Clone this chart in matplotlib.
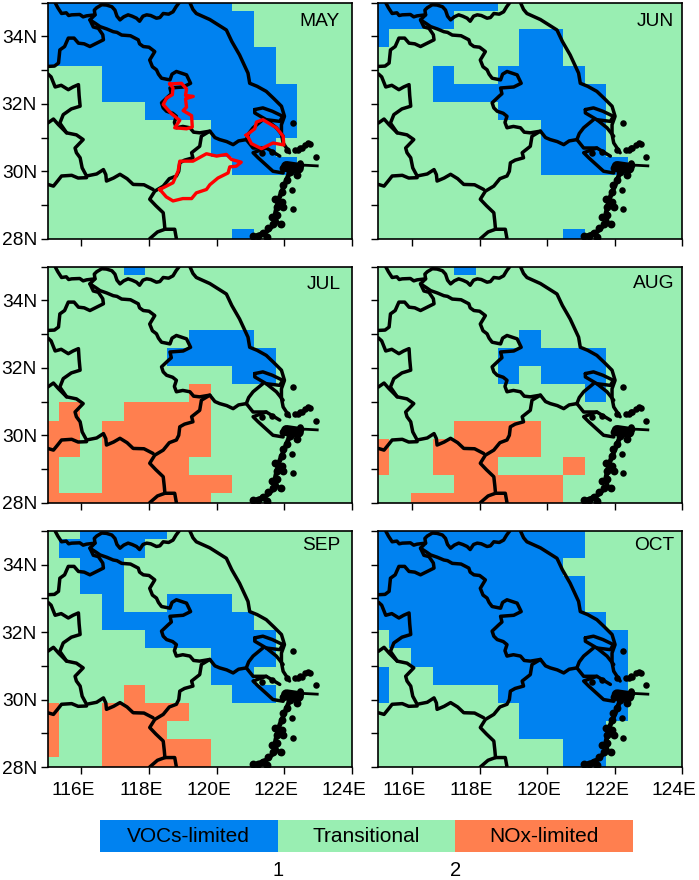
import numpy as np
import matplotlib
matplotlib.use("Agg")
import matplotlib.pyplot as plt
from matplotlib.colors import ListedColormap, BoundaryNorm
from matplotlib.cm import ScalarMappable
from matplotlib.transforms import ScaledTranslation

plt.rcParams['font.family'] = ['Liberation Sans', 'DejaVu Sans']

MONTHS = ["MAY", "JUN", "JUL", "AUG", "SEP", "OCT"]
REGIME_NAMES = ["VOCs-limited", "Transitional", "NOx-limited"]
REGIME_COLORS = ["#0082F0", "#99EEB2", "#FF7F4F"]
ALL1 = "111111111111111"

MAY = ["000000000111111", "000000000011111", "000000000011111", "000000000001111",
       "111000000001111", "111000000000111", "111110000000111", "111111110000111",
       "111111110001111", "111111111000111", ALL1, ALL1, ALL1, "111111111011111"]
JUN = ["000000111111111", "000011111111111", "011111100111111", "111111100111111",
       "111011000011111", "111000000001111", "111111000001111", "111111110001111",
       "111111110001111", "111111110000111", ALL1, ALL1, ALL1, "111111111011111"]
JUL = ["111101111111111", ALL1, ALL1, ALL1,
       "111111100011111", "111111000001111", "111111111001111", "111111121111111",
       "121122221111111", "221222221111111", "221222221111111", "211222211111111",
       "211222222111111", "222222221111111"]
AUG = ["111101111111111", ALL1, ALL1, ALL1,
       "111111101111111", "111111000001111", "111111010001111", "111111111101111",
       ALL1, "111122221111111", "211222221111111", "211222111211111",
       "111122222111111", "112222222111111"]
SEP = ["110000111111111", "100001111111111", "110011111111111", "110011111111111",
       "111011000111111", "111000000011111", "111110000001111", "111111110001111",
       "111111110011111", "111121111001111", "211222211111111", "211222111111111",
       "211222221111111", "111222221111111"]
OCT = ["000000000011111", "000000000011111", "000000000111111", "000000000011111",
       "000000000011111", "000000000001111", "100000000000111", "110000000000111",
       "011000000000111", "011111000000111", "111111100000111", "111111100001111",
       "111111111001111", "111111111001111"]
GRIDS = [MAY, JUN, JUL, AUG, SEP, OCT]

LON_EDGES = np.r_[115.0, 115.325 + 0.6423 * np.arange(14), 124.0]
LAT_EDGES = np.r_[35.0, 34.75 - 0.539 * np.arange(13), 28.0]

BORDERS = [
    [(115.22,35.0),(115.3,34.85),(115.41,34.68),(115.55,34.7),(115.62,34.62),(115.71,34.64),(115.95,34.65),(116.05,34.58),(116.15,34.61),(116.40,34.64),
     (116.38,34.78),(116.45,34.85),(116.6,34.94),(116.74,34.93),(116.9,34.88),(116.99,34.78),(117.05,34.6),(117.14,34.49),(117.25,34.58),(117.38,34.64),
     (117.5,34.6),(117.63,34.54),(117.72,34.45),(117.82,34.6),(117.93,34.64),(118.05,34.62),(118.22,34.54),(118.32,34.56),(118.42,34.68),(118.58,34.66),(118.71,34.73),(118.8,34.88),(118.89,35.0)],
    [(116.40,34.64),(116.25,34.49),(116.42,34.38),(116.55,34.29),(116.75,34.22),(116.94,34.14),(117.05,34.12),(117.19,34.04),(117.45,34.02),(117.68,33.90),
     (117.72,33.78),(117.83,33.70),(118.0,33.68),(118.17,33.55),(118.02,33.30),(118.1,33.1),(118.22,33.01),(118.28,32.88),(118.37,32.76),(118.62,32.71),(118.68,32.88),
     (118.81,32.96),(119.11,32.86),(119.23,32.61),(119.01,32.50),(118.62,32.47),(118.66,32.3),(118.57,32.22),
     (118.37,32.03),(118.42,31.88),(118.52,31.78),(118.7,31.72),(118.81,31.63),(118.75,31.45),(118.81,31.29),(119.0,31.33),(119.21,31.29),(119.32,31.16),(119.50,31.14),
     (119.80,31.19),(119.95,31.0),(120.09,30.94),(120.3,30.88),(120.49,30.79),(120.65,30.9),(120.88,30.94),(120.95,31.12),(121.08,31.29),(121.37,31.53)],
    [(115.0,33.11),(115.2,33.12),(115.32,33.21),(115.36,33.60),(115.5,33.7),(115.61,33.95),(115.78,33.95),(115.91,33.80),(116.08,33.78),(116.25,33.70),(116.45,33.8),(116.65,33.90),
     (116.63,34.05),(116.50,34.24),(116.35,34.28),(116.25,34.49)],
    [(115.0,32.89),(115.1,32.8),(115.22,32.50),(115.4,32.55),(115.61,32.42),(115.75,32.5),(115.91,32.57),(115.93,32.25),(115.96,31.93),(115.7,31.85),(115.46,31.68),(115.36,31.43),
     (115.56,31.14),(115.85,31.08),(116.05,30.94),(115.81,30.69),(115.85,30.55),(115.96,30.40),(116.02,30.1),(116.15,29.86),(116.45,29.92),(116.65,30.05),(116.72,29.9),(116.74,29.71),
     (116.95,29.8),(117.14,29.91),(117.35,29.78),(117.53,29.61),(117.85,29.6),(118.12,29.46)],
    [(115.0,31.43),(115.1,31.5),(115.17,31.55),(115.32,31.38),(115.56,31.14)],
    [(115.0,29.61),(115.17,29.56),(115.3,29.72),(115.41,29.86),(115.71,29.88),(115.9,29.8),(116.15,29.81)],
    [(119.80,31.19),(119.55,31.04),(119.50,30.74),(119.26,30.55),(119.30,30.40),(119.05,30.33),(118.91,30.25),(118.88,30.0),(118.81,29.86),
     (118.6,29.78),(118.42,29.56),(118.17,29.41),(118.02,29.17),(118.2,28.98),(118.42,28.77),(118.45,28.5),(118.47,28.28),(118.25,28.2),(118.02,28.0)],
    [(118.47,28.28),(118.76,28.28),(118.81,28.0)],
    [(119.21,35.0),(119.30,34.8),(119.40,34.68),(119.8,34.5),(120.29,34.19),(120.45,33.85),(120.68,33.45),(120.93,32.91),(120.98,32.61),(121.2,32.52),(121.47,32.37),
     (121.7,32.15),(121.92,31.93),(122.01,31.63),(121.92,31.38),(121.92,31.1),(121.97,30.84),(122.16,30.55)],
    [(121.13,31.83),(121.37,31.88),(121.65,31.78),(121.96,31.63),(121.87,31.48),(121.47,31.53),(121.13,31.73),(121.13,31.83)],
    [(121.47,31.53),(121.77,31.29),(121.97,31.04)],
    [(120.88,30.94),(121.08,30.69),(121.47,30.69),(121.87,30.45)],
    [(121.47,30.69),(121.08,30.55),(121.23,30.40),(121.67,30.0),(121.97,29.95)],
]
COAST_CHAIN = [(122.17,29.99),(122.03,29.64),(121.83,29.15),(121.73,28.70),(121.78,28.50),(121.48,28.21),(121.14,28.06)]
CHAIN_LUMP_LON = [122.17,122.32,121.98,122.47,122.37,122.07,121.96,121.93,121.73,121.93,121.78,121.98,121.63,121.78,121.68,121.90,121.53,121.38,121.09,121.24,121.48]
CHAIN_LUMP_LAT = [29.99,30.09,30.09,30.19,29.89,29.74,29.59,29.39,29.17,29.10,28.95,28.95,28.65,28.70,28.45,28.45,28.31,28.16,28.08,28.08,28.06]
BLOB = [(122.07,30.14),(122.42,30.09)]
STREAK = [(122.42,30.19),(122.98,30.16)]
ISLAND_LON = [122.72,122.52,122.32,122.07,122.94,122.25,122.22,122.25,121.88,122.62,122.42,122.47,121.33,121.63,122.48,122.78]
ISLAND_LAT = [30.83,30.68,30.63,30.63,30.43,31.44,29.44,28.87,28.45,30.78,30.63,30.24,30.53,30.58,30.7,30.8]
RED_AREAS = [
    [(118.62,32.59),(118.96,32.61),(119.11,32.44),(119.08,32.25),(119.31,32.22),(119.08,32.15),(119.11,31.90),
     (119.01,31.80),(119.26,31.65),(119.28,31.31),(119.11,31.26),(118.76,31.29),(118.91,31.51),(118.66,31.71),
     (118.42,31.98),(118.52,32.17),(118.69,32.27),(118.71,32.47),(118.62,32.59)],
    [(120.88,31.07),(121.13,31.26),(121.18,31.46),(121.37,31.53),(121.77,31.29),(121.97,31.04),(121.99,30.78),
     (121.67,30.84),(121.33,30.67),(121.03,30.82),(120.93,31.02),(120.88,31.07)],
    [(118.32,29.46),(118.71,29.66),(118.86,30.0),(118.91,30.30),(119.30,30.30),(119.70,30.52),(120.0,30.45),
     (120.29,30.50),(120.44,30.35),(120.73,30.27),(120.58,30.15),(120.39,30.13),(120.34,29.95),(120.04,29.80),
     (119.80,29.60),(119.70,29.46),(119.40,29.36),(119.26,29.19),(119.0,29.19),(118.71,29.12),(118.51,29.24),(118.32,29.46)],
]
XTICKS = [116, 118, 120, 122, 124]
YTICKS = [28, 30, 32, 34]
YMINOR = [29, 31, 33, 35]

cmap = ListedColormap(REGIME_COLORS)
norm = BoundaryNorm([0, 1, 2, 3], 3)

W, H = 699, 880
fig = plt.figure(figsize=(W / 100, H / 100), dpi=100)


def place(x0, y0, x1, y1):
    return fig.add_axes([x0 / W, 1 - y1 / H, (x1 - x0) / W, (y1 - y0) / H])


col_x = [(47.7, 351.7), (378.3, 682.3)]
row_y = [(2.7, 238.7), (266.7, 502.7), (531, 767)]
label_pos = [(0.96, 0.92), (0.973, 0.92), (0.965, 0.926), (0.973, 0.93), (0.964, 0.937), (0.975, 0.937)]
shift = ScaledTranslation(-8 / 100, 0, fig.dpi_scale_trans)

for k, (month, grid) in enumerate(zip(MONTHS, GRIDS)):
    r, c = k // 2, k % 2
    ax = place(col_x[c][0], row_y[r][0], col_x[c][1], row_y[r][1])
    values = np.array([[int(ch) + 0.5 for ch in row] for row in grid])
    ax.pcolormesh(LON_EDGES, LAT_EDGES, values, cmap=cmap, norm=norm, shading='flat', linewidth=0, rasterized=True)
    for line in BORDERS:
        xs, ys = zip(*line)
        ax.plot(xs, ys, color='black', lw=2.5, solid_joinstyle='round', solid_capstyle='round')
    xs, ys = zip(*COAST_CHAIN)
    ax.plot(xs, ys, color='black', lw=3.5, solid_joinstyle='round', solid_capstyle='round')
    ax.scatter(CHAIN_LUMP_LON, CHAIN_LUMP_LAT, s=32, color='black', lw=0, zorder=3)
    xs, ys = zip(*BLOB)
    ax.plot(xs, ys, color='black', lw=8, solid_capstyle='round')
    xs, ys = zip(*STREAK)
    ax.plot(xs, ys, color='black', lw=2)
    ax.scatter(ISLAND_LON, ISLAND_LAT, s=22, color='black', lw=0, zorder=3)
    if month == "MAY":
        for line in RED_AREAS:
            xs, ys = zip(*line)
            ax.plot(xs, ys, color='#FF0000', lw=2.4, zorder=4, solid_joinstyle='round')
    ax.set_xlim(115, 124)
    ax.set_ylim(28, 35)
    ax.set_xticks(XTICKS)
    ax.set_yticks(YTICKS)
    ax.set_yticks(YMINOR, minor=True)
    ax.tick_params(axis='x', which='major', length=4.8, width=1.0, labelsize=13.8, pad=6)
    ax.tick_params(axis='y', which='both', length=4.8, width=1.0, labelsize=13.8, pad=3)
    ax.set_xticklabels([f"{v}E" for v in XTICKS] if r == 2 else [])
    ax.set_yticklabels([f"{v}N" for v in YTICKS] if c == 0 else [])
    for lab in ax.get_xticklabels():
        lab.set_transform(lab.get_transform() + shift)
    for s in ax.spines.values():
        s.set_linewidth(1.2)
    ax.text(*label_pos[k], month, transform=ax.transAxes, ha='right', va='center', fontsize=13.8)

cax = place(100, 820.3, 633, 852.3)
cb = fig.colorbar(ScalarMappable(norm=norm, cmap=cmap), cax=cax, orientation='horizontal', ticks=[1, 2])
cb.outline.set_visible(False)
cax.minorticks_off()
for s in cax.spines.values():
    s.set_visible(False)
cax.tick_params(which='both', length=0, labelsize=14.5, pad=6.5)
cax.set_xticklabels(["1", "2"])
for i, name in enumerate(REGIME_NAMES):
    cax.text(i + 0.5, 0.5, name, ha='center', va='center', fontsize=15, transform=cax.get_xaxis_transform())

fig.savefig("out.png", dpi=100)
